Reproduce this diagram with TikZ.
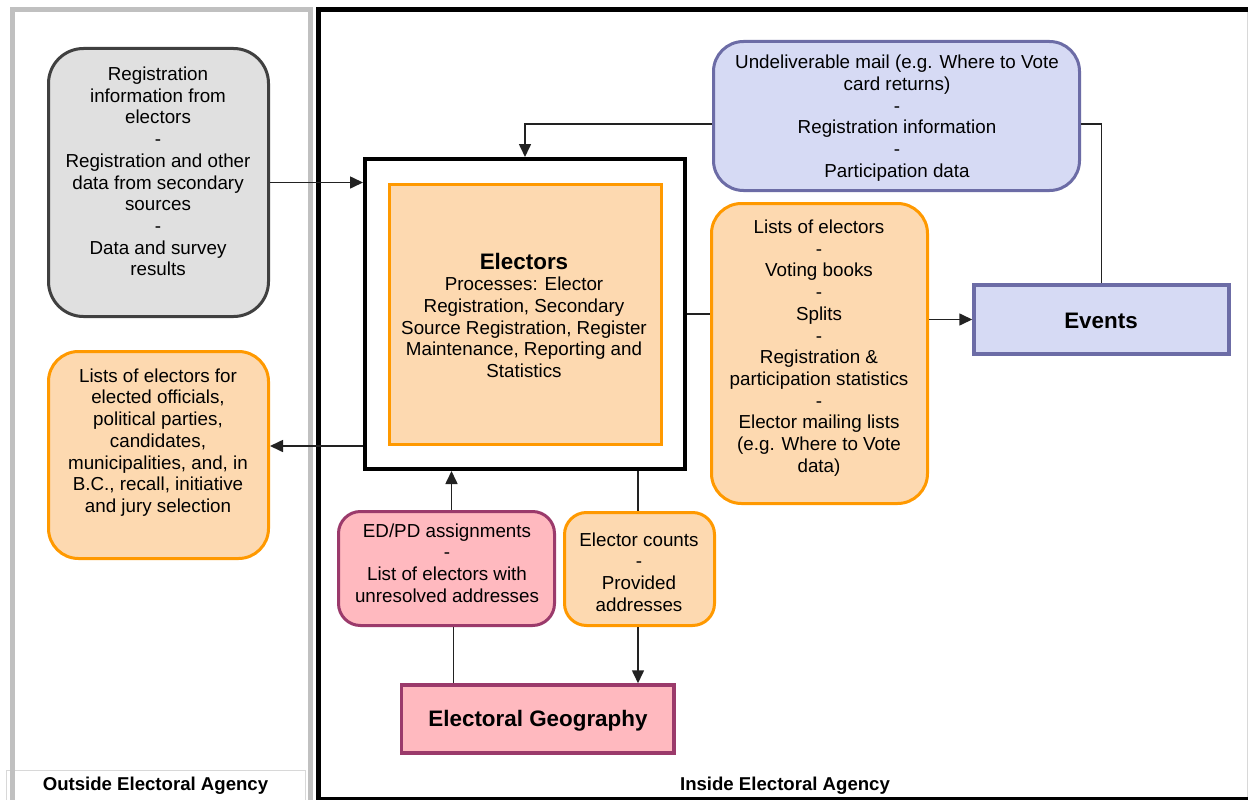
\documentclass[tikz,border=0pt]{standalone}
\usepackage{fontspec}
\setmainfont{Liberation Sans}
\usetikzlibrary{arrows.meta}

\definecolor{grayfill}{HTML}{E0E0E0}
\definecolor{grayline}{HTML}{404040}
\definecolor{peach}{HTML}{FDD9B0}
\definecolor{orangeline}{HTML}{FF9900}
\definecolor{lavender}{HTML}{D6DAF4}
\definecolor{lavline}{HTML}{6C6CA6}
\definecolor{pinkfill}{HTML}{FFB9BF}
\definecolor{pinkline}{HTML}{9B3A6B}
\definecolor{panelgray}{HTML}{C0C0C0}
\definecolor{labelgray}{HTML}{D8D8D8}
\definecolor{wireclr}{HTML}{222222}

\begin{document}
\begin{tikzpicture}[x=1pt,y=-1pt,
  body/.style={font=\fontsize{18.8pt}{21.7pt}\selectfont, align=center, inner sep=0pt},
  heading/.style={font=\fontsize{22.4pt}{26pt}\selectfont\bfseries, inner sep=0pt},
  panellabel/.style={font=\fontsize{18.6pt}{22pt}\selectfont\bfseries, inner sep=0pt},
  shapebox/.style={rectangle, inner sep=0pt, line width=3pt},
  graybox/.style={shapebox, draw=grayline, fill=grayfill, rounded corners=35pt},
  orangebox/.style={shapebox, draw=orangeline, fill=peach, rounded corners=30pt},
  smallorange/.style={shapebox, draw=orangeline, fill=peach, rounded corners=22pt},
  bluebox/.style={shapebox, draw=lavline, fill=lavender, rounded corners=30pt},
  bluerect/.style={shapebox, draw=lavline, fill=lavender, line width=3.5pt},
  pinkbox/.style={shapebox, draw=pinkline, fill=pinkfill, rounded corners=22pt},
  pinkrect/.style={shapebox, draw=pinkline, fill=pinkfill, line width=3.5pt},
  flow/.style={line width=1.6pt, draw=wireclr},
  arr/.style={flow, -{Triangle[length=13pt,width=12pt]}},
]
\useasboundingbox (0,0) rectangle (1248,800);
\clip (0,0) rectangle (1248,800);
\fill[white] (0,0) rectangle (1248,800);

% panel labels and frames
\node[draw=labelgray, line width=0.8pt, fill=white, minimum width=299pt, minimum height=32pt, inner sep=0pt]
  (outsideTag) at (155.5,786) {};
\node[panellabel] (outsideText) at (155.5,785.5) {Outside Electoral Agency};
\draw[panelgray, line width=5pt] (12,820) -- (12,10) -- (310,10) -- (310,820);
\draw[black, line width=5pt] (318,820) -- (318,10) -- (1260,10);
\draw[black, line width=4pt] (318,799) -- (1260,799);
\draw[labelgray, line width=1pt] (1247,12) -- (1247,797);
\node[panellabel] (insideText) at (785,785.5) {Inside Electoral Agency};

% boxes
\node[graybox, minimum width=220pt, minimum height=268pt] (src) at (158.5,182.5) {};
\node[body] (srcText) at (158,171.5) {Registration\\information from\\electors\\-\\Registration and other\\data from secondary\\sources\\-\\Data and survey\\results};

\node[shapebox, draw=black, fill=white, line width=4pt, minimum width=320pt, minimum height=310pt] (outElectors) at (525,314) {};
\node[shapebox, draw=orangeline, fill=peach, minimum width=272pt, minimum height=259.5pt] (electors) at (525,314.25) {};
\node[heading] (electorsTitle) at (524,261) {Electors};
\node[body] (electorsText) at (524,327.5) {Processes: Elector\\Registration, Secondary\\Source Registration, Register\\Maintenance, Reporting and\\Statistics};

\node[orangebox, minimum width=220pt, minimum height=207pt] (lists) at (158.5,455) {};
\node[body] (listsText) at (158,442.5) {Lists of electors for\\elected officials,\\political parties,\\candidates,\\municipalities, and, in\\B.C., recall, initiative\\and jury selection};

\node[bluebox, minimum width=366pt, minimum height=149pt] (mail) at (896.5,116) {};
\node[body] (mailText) at (897,118) {Undeliverable mail (e.g. Where to Vote\\card returns)\\-\\Registration information\\-\\Participation data};

\node[bluerect, minimum width=255pt, minimum height=69pt] (events) at (1101.5,319.5) {};
\node[heading] (eventsText) at (1101,321) {Events};

\node[orangebox, minimum width=216pt, minimum height=300pt] (outputs) at (819.5,353.5) {};
\node[body] (outputsText) at (819,348) {Lists of electors\\-\\Voting books\\-\\Splits\\-\\Registration \&\\participation statistics\\-\\Elector mailing lists\\(e.g. Where to Vote\\data)};

\node[pinkbox, minimum width=216pt, minimum height=114pt] (assign) at (446.5,568.5) {};
\node[body] (assignText) at (447,563) {ED/PD assignments\\-\\List of electors with\\unresolved addresses};

\node[smallorange, minimum width=150pt, minimum height=113pt] (counts) at (639.5,569) {};
\node[body] (countsText) at (639,572) {Elector counts\\-\\Provided\\addresses};

\node[pinkrect, minimum width=272.5pt, minimum height=68pt] (geo) at (537.75,719) {};
\node[heading] (geoText) at (538,721) {Electoral Geography};

% connectors
\draw[arr] (src.east) -- (src.east -| outElectors.west);
\draw[arr] ([yshift=25pt]outElectors.south west) -- ([yshift=25pt]outElectors.south west -| lists.east);
\draw[arr] ([yshift=-8pt]mail.west) -| (outElectors.north);
\draw[flow] (events.north) |- ([yshift=-8pt]mail.east);
\draw[flow] (outElectors.east) -- (outElectors.east -| outputs.west);
\draw[arr] (events.west -| outputs.east) -- (events.west);
\draw[arr] ([xshift=5pt]assign.north) -- ([xshift=5pt]assign.north |- outElectors.south);
\draw[flow] ([xshift=7pt]assign.south) -- ([xshift=7pt]assign.south |- geo.north);
\draw[flow] ([xshift=-1.5pt]counts.north |- outElectors.south) -- ([xshift=-1.5pt]counts.north);
\draw[arr] ([xshift=-1.5pt]counts.south) -- ([xshift=-1.5pt]counts.south |- geo.north);
\end{tikzpicture}
\end{document}
